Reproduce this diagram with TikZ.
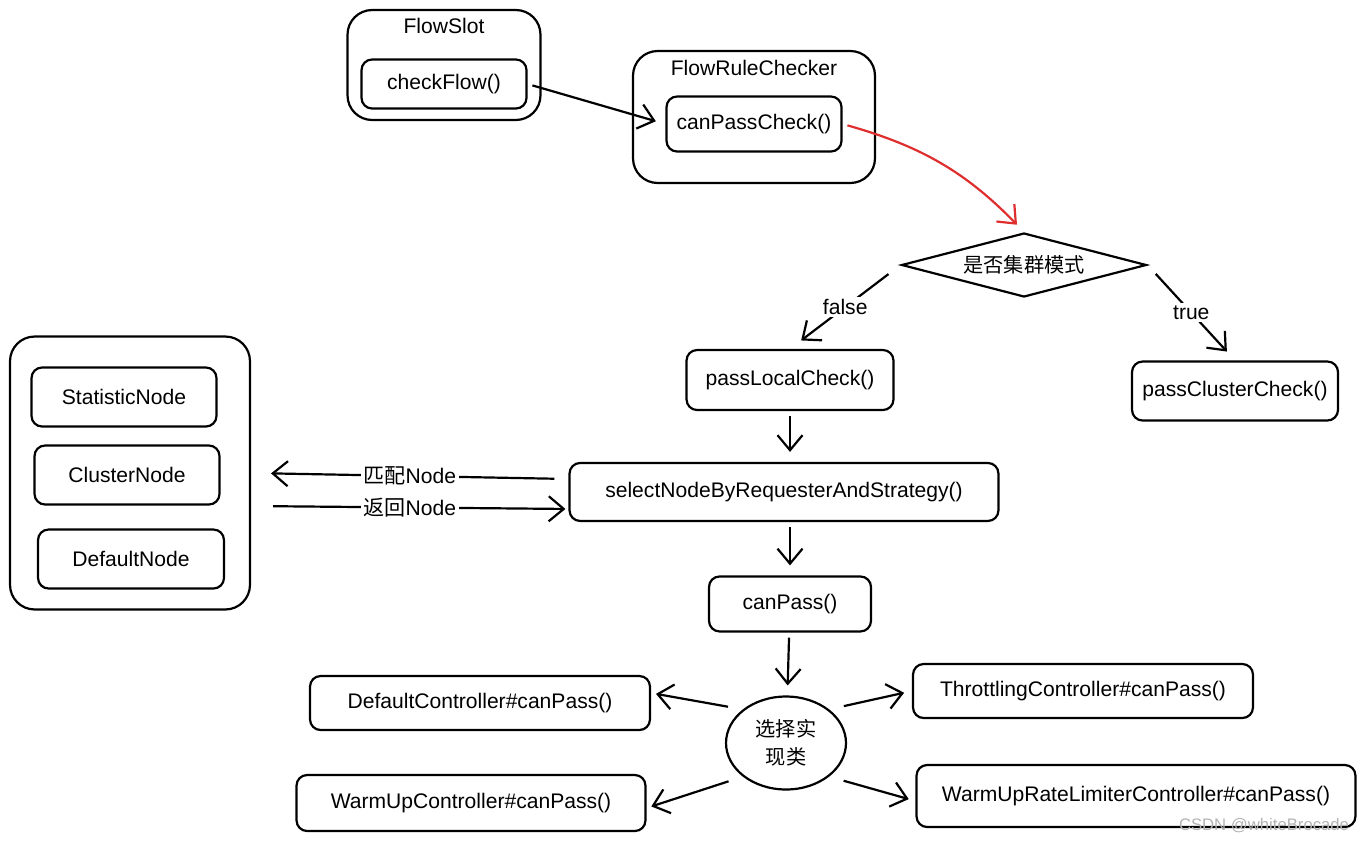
\documentclass[tikz,border=0pt]{standalone}
\usepackage{fontspec}
\setmainfont{Liberation Sans}
\newfontfamily\cjk{Noto Sans CJK SC}
\usetikzlibrary{arrows.meta,shapes,backgrounds}
\definecolor{alarm}{RGB}{222,46,46}

\begin{document}
\begin{tikzpicture}[x=0.02cm,y=-0.02cm,node distance=2.24cm,
  >={Straight Barb[length=3mm,width=5mm]},line width=1.25pt,
  font=\fontsize{12}{14}\selectfont]

  \tikzstyle{box}=[rectangle,rounded corners=6pt,draw,line width=1.25pt]
  \tikzstyle{frame}=[rectangle,rounded corners=14pt,draw,line width=1.25pt]
  \tikzstyle{lead}=[->,shorten >=0.2cm,shorten <=0.1cm]
  \tikzstyle{tag}=[fill=white,inner sep=1.5pt]
  \tikzstyle{zh}=[font=\cjk\fontsize{11.5}{16}\selectfont]

  \useasboundingbox (0,0) rectangle (1365,842);

  % Flow slot
  \node [frame,minimum width=3.86cm,minimum height=2.2cm] (slot) at (444,65) {};
  \node (slottitle) at (444,26) {FlowSlot};
  \node [box,minimum width=3.3cm,minimum height=0.98cm] (check) at (444,84) {checkFlow()};

  % Rule checker
  \node [frame,minimum width=4.84cm,minimum height=2.64cm] (checker) at (754,117) {};
  \node (checkertitle) at (754,68) {FlowRuleChecker};
  \node [box,minimum width=3.5cm,minimum height=1.1cm] (pass) at (754,124) {canPassCheck()};

  \node [diamond,draw,aspect=4,inner sep=1pt,minimum width=4.9cm,minimum height=1.28cm,zh]
        (decide) at (1024,265) {是否集群模式};

  \node [box,minimum width=4.14cm,minimum height=1.2cm]  (local)   at (790,380)   {passLocalCheck()};
  \node [box,minimum width=4.12cm,minimum height=1.18cm] (cluster) at (1235,391) {passClusterCheck()};
  \node [box,minimum width=8.58cm,minimum height=1.16cm] (select)  [below of=local,xshift=-0.12cm] {selectNodeByRequesterAndStrategy()};
  \node [box,minimum width=3.24cm,minimum height=1.1cm]  (canpass) [below of=local,yshift=-2.24cm] {canPass()};

  % Node holder
  \node [frame,minimum width=4.8cm,minimum height=5.46cm] (holder) at (130,473) {};
  \node [box,minimum width=3.7cm,minimum height=1.18cm]  (statnode)    at (124,397) {StatisticNode};
  \node [box,minimum width=3.7cm,minimum height=1.18cm]  (clusternode) at (127,475) {ClusterNode};
  \node [box,minimum width=3.72cm,minimum height=1.18cm] (defaultnode) at (131,559) {DefaultNode};

  % Controllers
  \node [ellipse,draw,inner sep=0pt,minimum width=2.4cm,minimum height=1.86cm,align=center,zh]
        (impl) at (786,743) {选择实\\现类};
  \node [box,minimum width=6.8cm,minimum height=1.08cm]  (defaultctl)  at (480,703)  {DefaultController\#canPass()};
  \node [box,minimum width=6.8cm,minimum height=1.08cm]  (throttlectl) at (1083,691) {ThrottlingController\#canPass()};
  \node [box,minimum width=6.98cm,minimum height=1.12cm] (warmctl)     at (471,803)  {WarmUpController\#canPass()};
  \node [box,minimum width=8.78cm,minimum height=1.24cm] (ratectl)     at (1136,796) {WarmUpRateLimiterController\#canPass()};

  \node [text=black!30,font=\fontsize{9.5}{11}\selectfont] (mark) at (1264,826) {CSDN @whiteBrocade};

  % Connectors
  \draw [lead] (check.east) -- (pass.west);
  \draw [lead,alarm] (pass.east) to [bend left=15] (decide.north);
  \draw [->,shorten <=0.3cm,shorten >=0.28cm] (decide.west) -- node [tag] {false} (local.north);
  \draw [->,shorten <=0.24cm,shorten >=0.24cm] (decide.east) -- node [tag] {true} (cluster.north);
  \draw [lead] (local) -- (local |- select.north);
  \draw [lead] (local |- select.south) -- (canpass);
  \draw [lead] (canpass) -- (impl);

  \draw [->,shorten <=0.28cm,shorten >=0.4cm] ([yshift=0.26cm]select.west)
        -- node [tag] {{\cjk 匹配}Node} (holder.east);
  \draw [->,shorten <=0.44cm,shorten >=0.06cm] ([yshift=-0.66cm]holder.east)
        -- node [tag] {{\cjk 返回}Node} ([yshift=-0.34cm]select.west);

  \draw [->,shorten <=0.3cm,shorten >=0.1cm] (impl.north west) -- ([yshift=0.2cm]defaultctl.east);
  \draw [->,shorten <=0.3cm,shorten >=0.16cm] (impl.north east) -- (throttlectl.west);
  \draw [->,shorten <=0.3cm,shorten >=0.1cm] (impl.south west) -- ([yshift=-0.1cm]warmctl.east);
  \draw [->,shorten <=0.3cm,shorten >=0.14cm] (impl.south east) -- ([yshift=-0.1cm]ratectl.west);
\end{tikzpicture}
\end{document}
